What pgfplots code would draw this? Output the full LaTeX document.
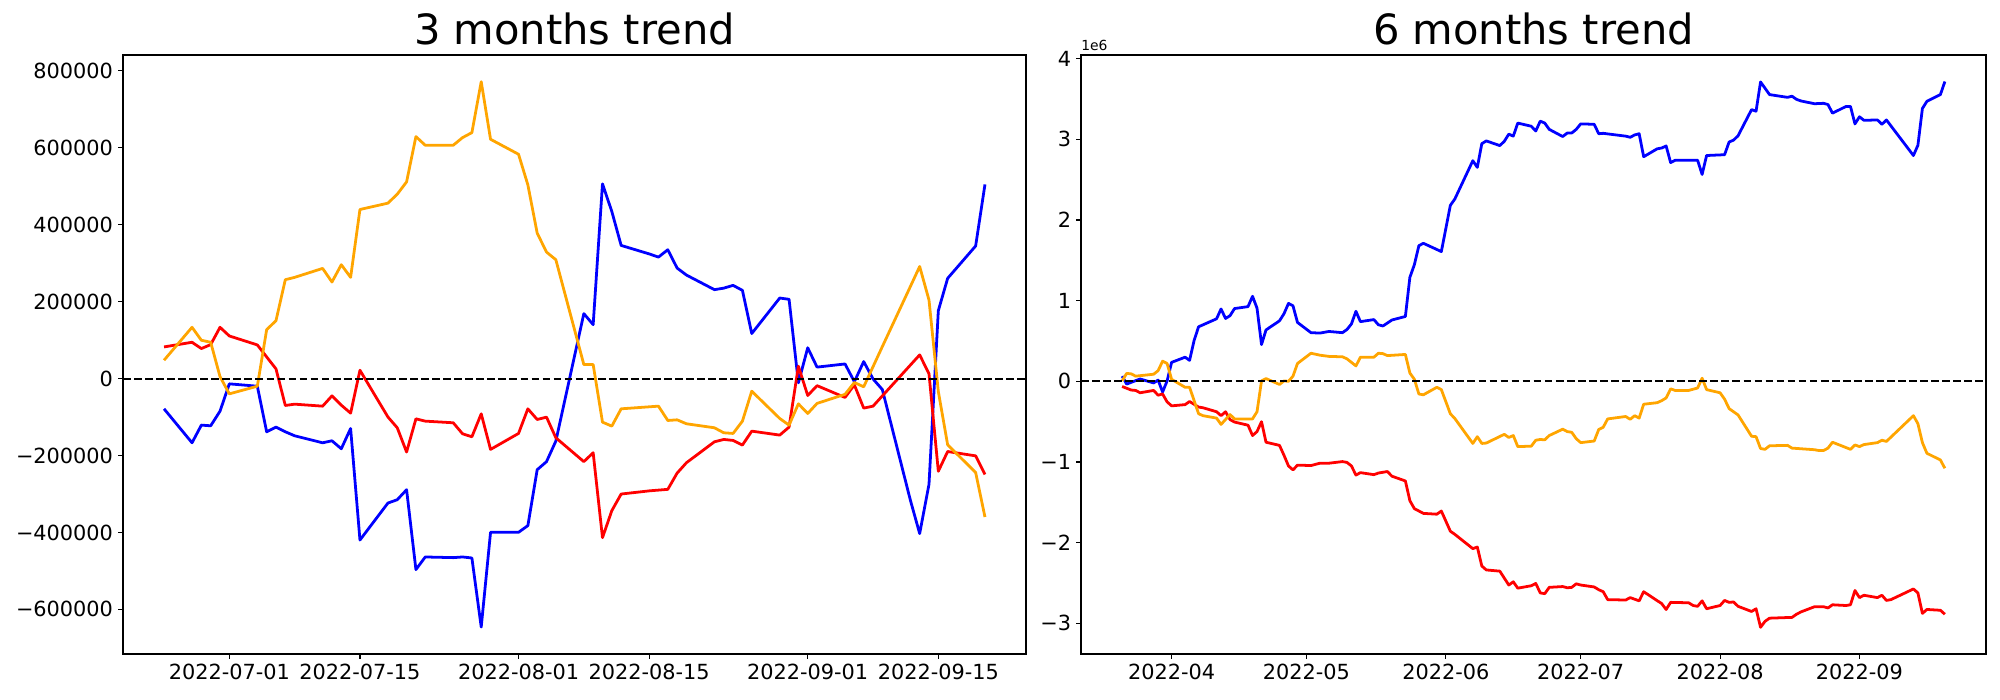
\documentclass[border=0pt]{standalone}
\usepackage{fontspec}
\setmainfont{DejaVu Sans}
\usepackage{pgfplots}
\usepackage{pgfplotstable}
\pgfplotsset{compat=1.18}

% 3 months window: day 0 = 2022-07-01
\pgfplotstableread{
d   blue     red      orange
-7  -78700   82200    47600
-4  -167000  94300    133200
-3  -121100  77900    99500
-2  -122800  88200    94300
-1  -84800   133200   5000
0   -13800   110700   -39800
3   -19900   87400    -19900
4   -138400  56200    127000
5   -126300  25100    150500
6   -138400  -70000   257000
7   -148800  -66600   263000
10  -167000  -71800   286300
11  -161800  -45000   250900
12  -182500  -69200   295800
13  -129800  -90000   263000
14  -419700  21600    439400
17  -323600  -100000  455900
18  -315000  -128000  479200
19  -289000  -191000  511200
20  -496600  -104700  628900
21  -463800  -110700  606400
24  -465500  -115000  606400
25  -463800  -143600  626300
26  -466400  -151400  639200
27  -646000  -91700   771600
28  -399700  -184200  621900
31  -399700  -142700  583000
32  -382300  -78700   503400
33  -237000  -106400  378000
34  -216000  -100300  328700
35  -162600  -154000  308800
38  168700   -216000  36300
39  140100   -192900  36300
40  506000   -413600  -113300
41  434200   -343400  -123700
42  346000   -300200  -78700
45  324000   -292000  -73500
46  315700   -290000  -71800
47  334800   -288000  -109000
48  287200   -245800  -107300
49  269000   -218800  -117600
52  231000   -164400  -128000
53  235000   -158300  -141000
54  242200   -160900  -142700
55  229200   -173000  -110700
56  117000   -136700  -32900
59  209300   -147000  -103800
60  205900   -126300  -121100
61  -11200   32000    -65700
62  80000    -44100   -90800
63  29700    -18500   -64600
66  37900    -49200   -41000
67  -8200    -16400   -10300
68  44100    -76900   -21500
69  -1000    -71800   30800
70  -28700   -45100   83100
73  -315900  34900    239000
74  -403000  61500    291300
75  -274900  12300    204100
76  176400   -241000  -33800
77  260500   -189700  -172300
80  344600   -201000  -244100
81  504600   -249200  -360000
}\threemonths

\definecolor{mplorange}{RGB}{255,165,0}

\pgfplotsset{
  trend/.style={
    scale only axis,
    height=5.99in,
    axis line style={line width=0.8bp},
    tick align=outside,
    major tick length=3.5bp,
    every tick/.style={black, line width=0.8bp},
    xtick pos=bottom, ytick pos=left,
    minor tick num=0,
    scaled y ticks=false,
    ticklabel style={font=\fontsize{15bp}{18bp}\selectfont, inner sep=0pt},
    xticklabel style={yshift=-3.5bp},
    yticklabel style={xshift=-3.5bp},
    title style={font=\fontsize{30bp}{36bp}\selectfont, at={(0.5,1)}, anchor=base, yshift=1.5bp},
    every axis plot/.append style={line width=2bp, line join=round, no markers},
  },
  zero/.style={black, line width=1.5bp, dash pattern=on 5.55bp off 2.4bp, forget plot},
}

\begin{document}
\begin{tikzpicture}
\useasboundingbox (0,0) rectangle (20in,7in);

\begin{axis}[trend,
  at={(1.23in,0.46in)}, anchor=south west, width=9.03in,
  title={3 months trend},
  xmin=-11.4, xmax=85.4, ymin=-716000, ymax=841000,
  xtick={0,14,31,45,62,76},
  xticklabels={2022-07-01,2022-07-15,2022-08-01,2022-08-15,2022-09-01,2022-09-15},
  ytick={-600000,-400000,-200000,0,200000,400000,600000,800000},
  yticklabels={−600000,−400000,−200000,0,200000,400000,600000,800000},
]
\addplot[blue] table[x=d, y=blue] {\threemonths};
\addplot[red] table[x=d, y=red] {\threemonths};
\addplot[mplorange] table[x=d, y=orange] {\threemonths};
\addplot[zero] coordinates {(-11.4,0) (85.4,0)};
\end{axis}

% 6 months window: day 0 = 2022-04-01, values in millions
\begin{axis}[trend,
  name=six,
  at={(10.81in,0.46in)}, anchor=south west, width=9.05in,
  title={6 months trend},
  xmin=-20.15, xmax=181.15, ymin=-3.38, ymax=4.045,
  xtick={0,30,61,91,122,153},
  xticklabels={2022-04,2022-05,2022-06,2022-07,2022-08,2022-09},
  ytick={-3,-2,-1,0,1,2,3,4},
  yticklabels={−3,−2,−1,0,1,2,3,4},
]
\addplot[blue] coordinates {
(-11,0.064) (-10,-0.034) (-7,0.029) (-4,-0.020) (-3,0.015) (-2,-0.132) (-1,0.005)
(0,0.235) (3,0.299) (4,0.26) (5,0.505) (6,0.676) (10,0.775) (11,0.897) (12,0.779)
(13,0.814) (14,0.902) (17,0.926) (18,1.054) (19,0.907) (20,0.456) (21,0.637)
(24,0.75) (25,0.838) (26,0.966) (27,0.936) (28,0.730) (31,0.603) (33,0.598)
(35,0.618) (38,0.603) (39,0.642) (40,0.711) (41,0.868) (42,0.740) (45,0.765)
(46,0.701) (47,0.686) (49,0.760) (52,0.804) (53,1.289) (54,1.446) (55,1.681)
(56,1.711) (60,1.608) (62,2.181) (63,2.260) (67,2.735) (68,2.652) (69,2.946)
(70,2.980) (73,2.922) (74,2.975) (75,3.064) (76,3.039) (77,3.201) (80,3.162)
(81,3.103) (82,3.225) (83,3.201) (84,3.123) (87,3.034) (88,3.078) (89,3.078)
(90,3.123) (91,3.191) (94,3.186) (95,3.069) (96,3.074) (101,3.039) (102,3.025)
(103,3.054) (104,3.069) (105,2.784) (108,2.882) (109,2.892) (110,2.917) (111,2.711)
(112,2.740) (117,2.740) (118,2.564) (119,2.799) (123,2.809) (124,2.966) (125,2.990)
(126,3.044) (129,3.368) (130,3.348) (131,3.711) (133,3.554) (137,3.520) (138,3.534)
(139,3.495) (140,3.475) (143,3.441) (145,3.446) (146,3.431) (147,3.324) (150,3.407)
(151,3.407) (152,3.191) (153,3.279) (154,3.235) (157,3.240) (158,3.186) (159,3.240)
(165,2.799) (166,2.926) (167,3.382) (168,3.471) (171,3.554) (172,3.716)
};
\addplot[red] coordinates {
(-11,-0.064) (-9,-0.108) (-8,-0.113) (-7,-0.142) (-4,-0.113) (-3,-0.172) (-2,-0.157)
(-1,-0.255) (0,-0.304) (3,-0.289) (4,-0.25) (6,-0.319) (7,-0.328) (10,-0.377)
(11,-0.426) (12,-0.377) (13,-0.475) (14,-0.505) (17,-0.544) (18,-0.672) (19,-0.623)
(20,-0.5) (21,-0.755) (24,-0.794) (25,-0.917) (26,-1.049) (27,-1.098) (28,-1.039)
(31,-1.044) (33,-1.015) (35,-1.015) (38,-0.995) (39,-1.005) (40,-1.049) (41,-1.162)
(42,-1.132) (45,-1.157) (46,-1.137) (48,-1.118) (49,-1.176) (52,-1.235) (53,-1.480)
(54,-1.578) (56,-1.637) (59,-1.647) (60,-1.608) (62,-1.858) (63,-1.897) (67,-2.074)
(68,-2.054) (69,-2.289) (70,-2.338) (73,-2.353) (75,-2.525) (76,-2.485) (77,-2.564)
(80,-2.534) (81,-2.505) (82,-2.623) (83,-2.632) (84,-2.554) (87,-2.544) (88,-2.559)
(89,-2.554) (90,-2.510) (91,-2.525) (94,-2.549) (95,-2.583) (96,-2.608) (97,-2.706)
(101,-2.711) (102,-2.681) (104,-2.721) (105,-2.608) (109,-2.755) (110,-2.828)
(111,-2.740) (115,-2.745) (116,-2.779) (117,-2.789) (118,-2.721) (119,-2.819)
(122,-2.779) (123,-2.716) (124,-2.740) (125,-2.735) (126,-2.789) (129,-2.853)
(130,-2.819) (131,-3.049) (132,-2.975) (133,-2.936) (138,-2.926) (139,-2.887)
(140,-2.858) (143,-2.794) (145,-2.794) (146,-2.809) (147,-2.770) (150,-2.779)
(151,-2.770) (152,-2.593) (153,-2.681) (154,-2.652) (157,-2.681) (158,-2.652)
(159,-2.716) (160,-2.706) (165,-2.574) (166,-2.623) (167,-2.877) (168,-2.828)
(171,-2.838) (172,-2.887)
};
\addplot[mplorange] coordinates {
(-11,0.005) (-10,0.098) (-9,0.093) (-8,0.064) (-4,0.088) (-3,0.132) (-2,0.25)
(-1,0.221) (0,0.025) (3,-0.074) (4,-0.074) (6,-0.402) (7,-0.426) (10,-0.456)
(11,-0.534) (13,-0.412) (14,-0.466) (18,-0.466) (19,-0.377) (20,0.005) (21,0.034)
(24,-0.039) (25,0.005) (26,0) (27,0.064) (28,0.221) (31,0.348) (33,0.324) (35,0.309)
(38,0.304) (39,0.279) (40,0.235) (41,0.191) (42,0.299) (45,0.299) (46,0.348)
(47,0.343) (48,0.319) (52,0.333) (53,0.103) (54,0.025) (55,-0.157) (56,-0.167)
(59,-0.074) (60,-0.103) (62,-0.402) (63,-0.461) (67,-0.770) (68,-0.686) (69,-0.770)
(70,-0.765) (74,-0.657) (75,-0.696) (76,-0.672) (77,-0.809) (80,-0.804) (81,-0.730)
(82,-0.721) (83,-0.725) (84,-0.672) (87,-0.593) (88,-0.623) (89,-0.632) (90,-0.711)
(91,-0.760) (94,-0.740) (95,-0.598) (96,-0.569) (97,-0.466) (101,-0.436) (102,-0.471)
(103,-0.426) (104,-0.456) (105,-0.284) (108,-0.265) (109,-0.240) (110,-0.206)
(111,-0.093) (112,-0.113) (115,-0.113) (117,-0.083) (118,0.039) (119,-0.103)
(122,-0.142) (123,-0.221) (124,-0.338) (126,-0.417) (129,-0.681) (130,-0.686)
(131,-0.833) (132,-0.843) (133,-0.799) (137,-0.794) (138,-0.828) (143,-0.848)
(144,-0.858) (145,-0.858) (146,-0.828) (147,-0.755) (151,-0.843) (152,-0.789)
(153,-0.809) (154,-0.784) (157,-0.760) (158,-0.730) (159,-0.745) (165,-0.426)
(166,-0.525) (167,-0.760) (168,-0.892) (171,-0.975) (172,-1.078)
};
\addplot[zero] coordinates {(-20.15,0) (181.15,0)};
\end{axis}
% offset text of the y axis, as matplotlib puts it above the top left corner
\node[anchor=south west, inner sep=0pt, yshift=3bp, font=\fontsize{10bp}{12bp}\selectfont]
  at (six.north west) {1e6};
\end{tikzpicture}
\end{document}
